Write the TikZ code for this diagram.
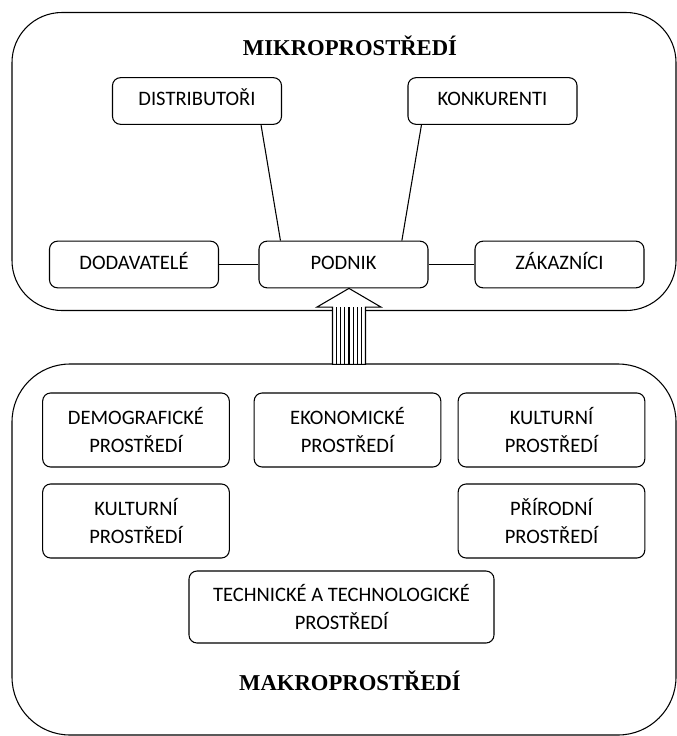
\documentclass[tikz,border=0pt]{standalone}
\usepackage{fontspec}
\setmainfont{Carlito}
\newfontfamily\timesfont{Liberation Serif}
\usetikzlibrary{calc}

\tikzset{
	outerbox/.style={draw,line width=0.8pt,inner sep=0pt},
	envbox/.style={draw,rounded corners=6pt,line width=0.8pt,inner sep=0pt,align=center,font=\fontsize{15.4}{20.3}\selectfont},
	onebox/.style={envbox,minimum width=126.75pt,minimum height=35pt,text height=9.9pt,text depth=3pt},
	twobox/.style={envbox,minimum width=140pt,minimum height=55.5pt},
	title/.style={anchor=base,font=\timesfont\bfseries\fontsize{17}{20}\selectfont}
}

\begin{document}
\begin{tikzpicture}[x=0.75pt,y=-0.75pt]
		\useasboundingbox (0,0) rectangle (677,736);
		\node [outerbox,rounded corners=37.5pt,minimum width=498pt,minimum height=223.5pt] (mikro) at (344,161.5) {};
		\node [outerbox,rounded corners=43.5pt,minimum width=498pt,minimum height=278.25pt] (makro) at (344,549.5) {};
		\node [title] (mikrotitle) at (350,55) {MIKROPROSTŘEDÍ};
		\node [title] (makrotitle) at (350,690) {MAKROPROSTŘEDÍ};
		\node [onebox] (distributori) at (197,101) {DISTRIBUTOŘI};
		\node [onebox] (konkurenti) at (492.5,101) {KONKURENTI};
		\node [onebox] (dodavatele) at (134,264.5) {DODAVATELÉ};
		\node [onebox] (podnik) at (343.5,264.5) {PODNIK};
		\node [onebox] (zakaznici) at (559.5,264.5) {ZÁKAZNÍCI};
		\draw [line width=0.8pt] ([xshift=-15.75pt]distributori.south east) -- ([xshift=16.5pt]podnik.north west);
		\draw [line width=0.8pt] ([xshift=10.5pt]konkurenti.south west) -- ([xshift=-20pt]podnik.north east);
		\draw [line width=0.8pt] (dodavatele.east) -- (podnik.west);
		\draw [line width=0.8pt] (podnik.east) -- (zakaznici.west);
		\node [twobox] (demograficke) at (136,430) {DEMOGRAFICKÉ\\PROSTŘEDÍ};
		\node [twobox] (ekonomicke) at (347.5,430) {EKONOMICKÉ\\PROSTŘEDÍ};
		\node [twobox] (kulturni) at (551.5,430) {KULTURNÍ\\PROSTŘEDÍ};
		\node [twobox] (kulturnidva) at (136,521) {KULTURNÍ\\PROSTŘEDÍ};
		\node [twobox] (prirodni) at (551.5,521) {PŘÍRODNÍ\\PROSTŘEDÍ};
		\node [envbox,minimum width=228.75pt,minimum height=54pt] (technicke) at (341.5,607) {TECHNICKÉ A TECHNOLOGICKÉ\\PROSTŘEDÍ};
		\coordinate (tip) at ([xshift=4.1pt]podnik.south);
		\draw [line width=0.8pt,fill=white] (tip) -- ++(32,18.7) -- ++(-15.5,0) -- ++(0,57.3) -- ++(-33,0) -- ++(0,-57.3) -- ++(-15.5,0) -- cycle;
		\foreach \i in {1,...,7}
			\draw [line width=0.8pt] ($(tip)+({-16.5+4.125*\i},18.7)$) -- ++(0,57.3);
	\end{tikzpicture}
\end{document}
